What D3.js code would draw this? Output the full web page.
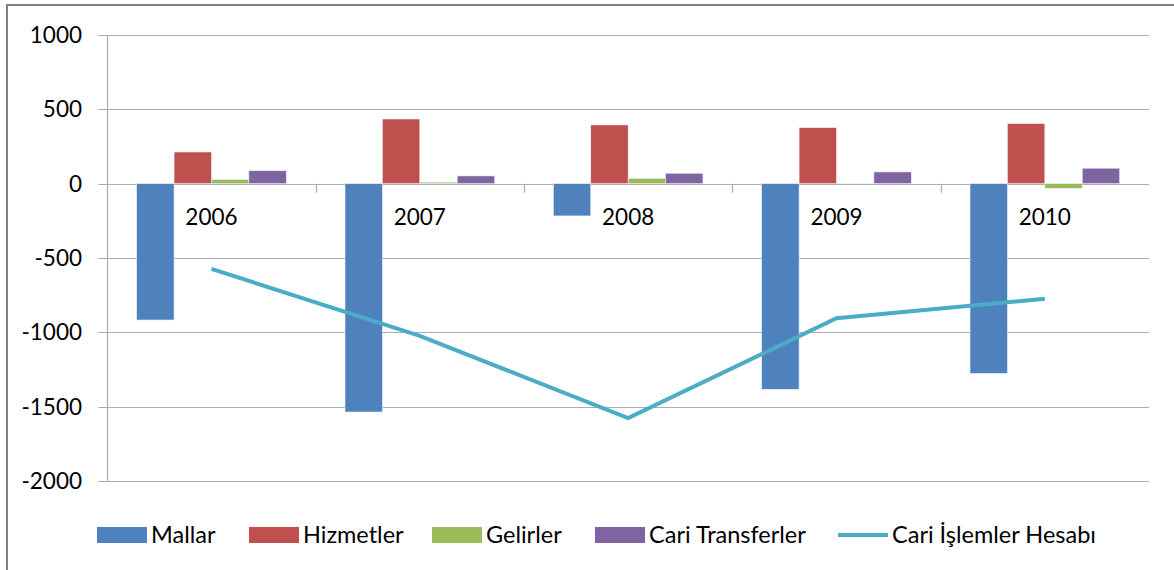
<!DOCTYPE html>
<html>
<head>
    <title></title>
    <meta charset="utf-8">
    <style>
        body { margin: 0; background: #fff; }
        text { font-family: Lato, "Open Sans", sans-serif; fill: #000; }
    </style>
</head>
<body>
<script src="https://cdn.jsdelivr.net/npm/d3@7"></script>
<script>
    // data
    var years = ['2006', '2007', '2008', '2009', '2010'];
    var series = ['Mallar', 'Hizmetler', 'Gelirler', 'Cari Transferler'];
    var mallar = [-917, -1536, -217, -1383, -1276];
    var hizmetler = [213, 435, 395, 377, 404];
    var gelirler = [27, 10, 36, 1, -31];
    var cariTransferler = [87, 52, 70, 79, 104];
    var cariIslemler = [-573, -1024, -1577, -905, -774];
    var lineName = 'Cari İşlemler Hesabı';
    var yTicks = [1000, 500, 0, -500, -1000, -1500, -2000];
    var colors = ['#4F81BD', '#C0504D', '#9BBB59', '#8064A2'];
    var lineColor = '#4BACC6';

    var barValues = [mallar, hizmetler, gelirler, cariTransferler];

    var svg = d3.select('body').append('svg')
        .attr('width', 1174)
        .attr('height', 570);

    // outer chart frame (cut by the window on right and bottom)
    svg.append('rect')
        .attr('x', 7).attr('y', 5)
        .attr('width', 1200).attr('height', 600)
        .style('fill', 'none').style('stroke', '#808080').style('stroke-width', 2);

    var left = 107.3, right = 1149;
    var y = d3.scaleLinear().domain([-2000, 1000]).range([481, 35]);
    var x0 = d3.scaleBand().domain(years).range([left, right]);
    var x1 = d3.scaleBand().domain(series).range([0, x0.bandwidth()]).paddingOuter(0.785);

    // gridlines + y ticks
    svg.selectAll('.grid').data(yTicks).enter().append('line')
        .attr('x1', left - 9).attr('x2', right)
        .attr('y1', function (d) { return Math.round(y(d)) + 0.5; })
        .attr('y2', function (d) { return Math.round(y(d)) + 0.5; })
        .style('stroke', '#adadad').style('stroke-width', 1.2);

    svg.selectAll('.ylab').data(yTicks).enter().append('text')
        .attr('x', 82).attr('y', function (d) { return y(d); })
        .attr('dy', '0.36em')
        .attr('text-anchor', 'end')
        .style('font-size', '22.5px')
        .text(function (d) { return d; });

    // vertical axis
    svg.append('line')
        .attr('x1', Math.round(left) + 0.5).attr('x2', Math.round(left) + 0.5)
        .attr('y1', y(1000)).attr('y2', y(-2000))
        .style('stroke', '#adadad').style('stroke-width', 1.2);

    // bars
    series.forEach(function (s, i) {
        svg.selectAll('.bar' + i).data(years).enter().append('rect')
            .attr('x', function (d) { return x0(d) + x1(s); })
            .attr('width', x1.bandwidth())
            .attr('y', function (d, j) { return y(Math.max(0, barValues[i][j])); })
            .attr('height', function (d, j) { return Math.abs(y(barValues[i][j]) - y(0)); })
            .style('fill', colors[i])
            .style('stroke', '#e8eef7').style('stroke-width', 0.6);
    });

    // category tick marks on the zero line
    var bounds = years.slice(1).map(function (d) { return x0(d); });
    svg.selectAll('.ctick').data(bounds).enter().append('line')
        .attr('x1', function (d) { return Math.round(d) + 0.5; })
        .attr('x2', function (d) { return Math.round(d) + 0.5; })
        .attr('y1', y(0)).attr('y2', y(0) + 9)
        .style('stroke', '#adadad').style('stroke-width', 1.2);

    // category labels
    svg.selectAll('.xlab').data(years).enter().append('text')
        .attr('x', function (d) { return x0(d) + x0.bandwidth() / 2; })
        .attr('y', 225)
        .attr('text-anchor', 'middle')
        .style('font-size', '22.5px')
        .text(function (d) { return d; });

    // current account line
    var line = d3.line()
        .x(function (d, i) { return x0(years[i]) + x0.bandwidth() / 2; })
        .y(function (d) { return y(d); });
    svg.append('path')
        .datum(cariIslemler)
        .attr('d', line)
        .style('fill', 'none').style('stroke', lineColor).style('stroke-width', 4);

    // legend
    var legendItems = [
        { name: series[0], color: colors[0], x: 97 },
        { name: series[1], color: colors[1], x: 249 },
        { name: series[2], color: colors[2], x: 432 },
        { name: series[3], color: colors[3], x: 595 }
    ];
    var lg = svg.append('g');
    legendItems.forEach(function (it) {
        lg.append('rect')
            .attr('x', it.x).attr('y', 527)
            .attr('width', 50).attr('height', 16)
            .style('fill', it.color);
        lg.append('text')
            .attr('x', it.x + 54).attr('y', 535).attr('dy', '0.36em')
            .style('font-size', '23.5px')
            .text(it.name);
    });
    lg.append('line')
        .attr('x1', 838).attr('x2', 888)
        .attr('y1', 535).attr('y2', 535)
        .style('stroke', lineColor).style('stroke-width', 4);
    lg.append('text')
        .attr('x', 892).attr('y', 535).attr('dy', '0.36em')
        .style('font-size', '23.5px')
        .text(lineName);
</script>
</body>
</html>
